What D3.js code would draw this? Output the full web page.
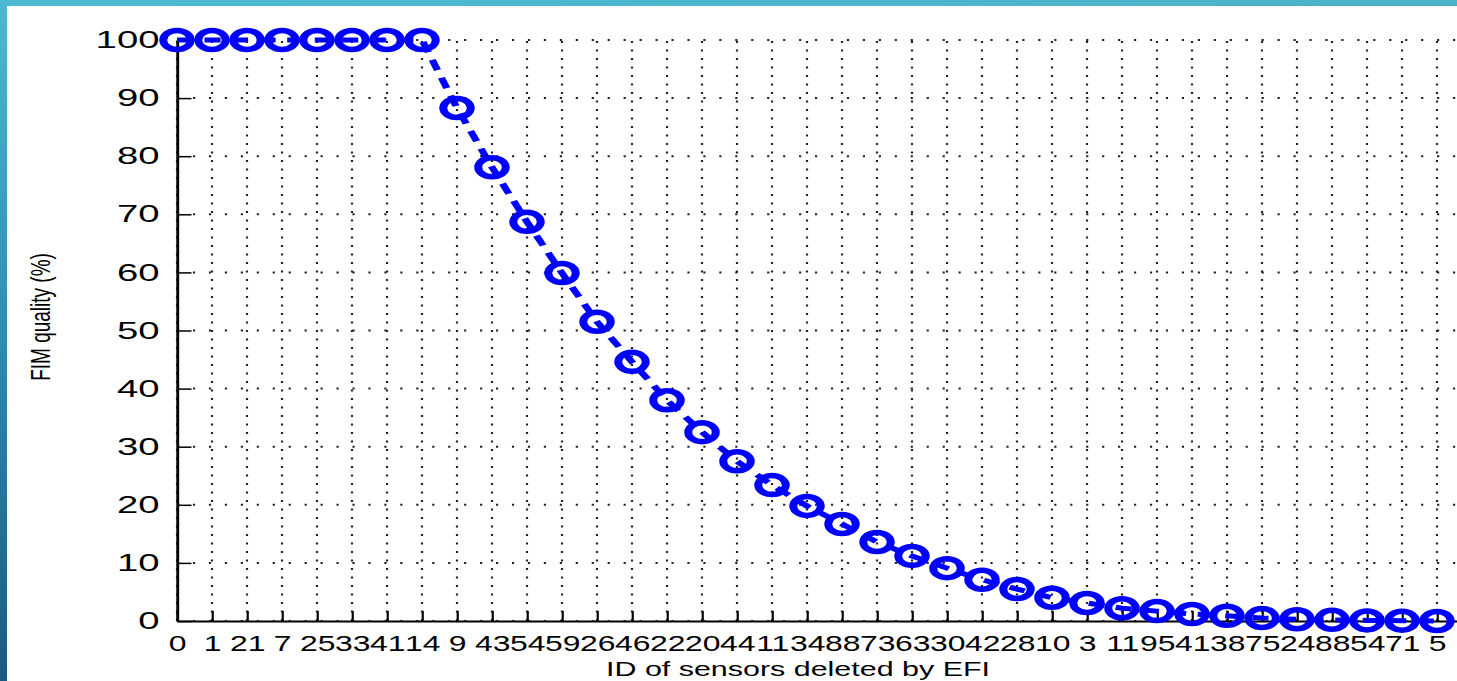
<!DOCTYPE html>
<html>
<head>
<meta charset="utf-8">
<script src="https://cdn.jsdelivr.net/npm/d3@7"></script>
<style>
  html, body { margin: 0; padding: 0; background: #fff; }
  svg { display: block; }
</style>
</head>
<body>
<svg id="chart" width="1457" height="681"></svg>
<script>
// ---- data ----
const sensorIds = ["0","1","21","7","25","33","41","14","9","43","54","59","26","46","22","20","44","11","34","88","73","63","30","42","28","10","3","11","95","41","38","75","24","88","54","71","5"];
const fimQuality = [100,100,100,100,100,100,100,100,88.3,78.1,68.7,59.9,51.5,44.6,38.0,32.5,27.5,23.4,19.8,16.7,13.6,11.2,9.1,7.1,5.5,4.0,3.1,2.2,1.7,1.2,0.9,0.5,0.3,0.2,0.1,0.05,0];
const yTicks = [0,10,20,30,40,50,60,70,80,90,100];
const xTitle = "ID of sensors deleted by EFI";
const yTitle = "FIM quality (%)";

(function () {
// ---- layout ----
const W = 1457, H = 681;
const sx = 1.45;               // horizontal stretch of the original figure
const plotLeft = 177, plotBottom = 621, plotTop = 40, step = 35;

const svg = d3.select("#chart");
svg.append("rect").attr("width", W).attr("height", H).attr("fill", "#fff");

// decorative frame strips
const defs = svg.append("defs");
const lg = defs.append("linearGradient").attr("id", "leftStrip").attr("x1", 0).attr("y1", 0).attr("x2", 0).attr("y2", 1);
lg.append("stop").attr("offset", "0%").attr("stop-color", "#4cb9d2");
lg.append("stop").attr("offset", "50%").attr("stop-color", "#2b8db0");
lg.append("stop").attr("offset", "100%").attr("stop-color", "#1a5a80");
const tg = defs.append("linearGradient").attr("id", "topStrip").attr("x1", 0).attr("y1", 0).attr("x2", 1).attr("y2", 0);
tg.append("stop").attr("offset", "0%").attr("stop-color", "#4cbad3");
tg.append("stop").attr("offset", "100%").attr("stop-color", "#4ab3ca");
svg.append("rect").attr("x", 0).attr("y", 0).attr("width", W).attr("height", 6).attr("fill", "url(#topStrip)");
svg.append("rect").attr("x", 0).attr("y", 0).attr("width", 7).attr("height", H).attr("fill", "url(#leftStrip)");

const g = svg.append("g").attr("transform", `scale(${sx},1)`);

const x = d3.scaleLinear().domain([0, sensorIds.length]).range([plotLeft / sx, (plotLeft + sensorIds.length * step) / sx]);
const y = d3.scaleLinear().domain([0, 100]).range([plotBottom, plotTop]);

const font = "'Liberation Sans', Arial, Helvetica, sans-serif";

// grid
const grid = g.append("g");
grid.selectAll("line.vg").data(d3.range(sensorIds.length)).join("line")
  .attr("class", "vg")
  .attr("x1", d => x(d)).attr("x2", d => x(d))
  .attr("y1", y(0)).attr("y2", y(100))
  .attr("stroke", "#222").attr("stroke-width", 1.5)
  .attr("stroke-dasharray", "2,6.5");
grid.selectAll("line.hg").data(yTicks).join("line")
  .attr("class", "hg")
  .attr("x1", x(0)).attr("x2", x(sensorIds.length))
  .attr("y1", d => y(d)).attr("y2", d => y(d))
  .attr("stroke", "#222").attr("stroke-width", 2)
  .attr("stroke-dasharray", "1.5,9.5");

// axes
const xAxis = d3.axisBottom(x)
  .tickValues(d3.range(sensorIds.length))
  .tickFormat(i => sensorIds[i])
  .tickSize(-10).tickSizeOuter(0).tickPadding(14);
const gx = g.append("g").attr("transform", `translate(0,${y(0)})`).call(xAxis);

const yAxis = d3.axisLeft(y)
  .tickValues(yTicks)
  .tickSize(-10).tickSizeOuter(0).tickPadding(11);
const gy = g.append("g").attr("transform", `translate(${x(0)},0)`).call(yAxis);

[gx, gy].forEach(a => {
  a.select(".domain").attr("stroke", "#000").attr("stroke-width", 2);
  a.selectAll(".tick line").attr("stroke", "#000").attr("stroke-width", 1.5);
  a.selectAll(".tick text").attr("fill", "#000").style("font-family", font);
});
gx.selectAll(".tick text").style("font-size", "22px");
gy.selectAll(".tick text").attr("transform", "scale(1.1,1)").style("font-size", "24px");

// series line
const line = d3.line().x((d, i) => x(i)).y(d => y(d));
g.append("path").datum(fimQuality)
  .attr("d", line)
  .attr("fill", "none")
  .attr("stroke", "#0000ff")
  .attr("stroke-width", 5)
  .attr("stroke-dasharray", "11,8");

// markers
g.append("g").selectAll("circle").data(fimQuality).join("circle")
  .attr("cx", (d, i) => x(i)).attr("cy", d => y(d))
  .attr("r", 9.5)
  .attr("fill", "none")
  .attr("stroke", "#0000ff")
  .attr("stroke-width", 5.5);

// titles
g.append("text")
  .attr("x", 798 / sx).attr("y", 676)
  .attr("text-anchor", "middle")
  .style("font-family", font).style("font-size", "21px")
  .attr("fill", "#000")
  .text(xTitle);

g.append("text")
  .attr("transform", `translate(${50 / sx},317) rotate(-90)`)
  .attr("text-anchor", "middle")
  .style("font-family", font).style("font-size", "19px")
  .attr("fill", "#000")
  .text(yTitle);
})();
</script>
</body>
</html>
